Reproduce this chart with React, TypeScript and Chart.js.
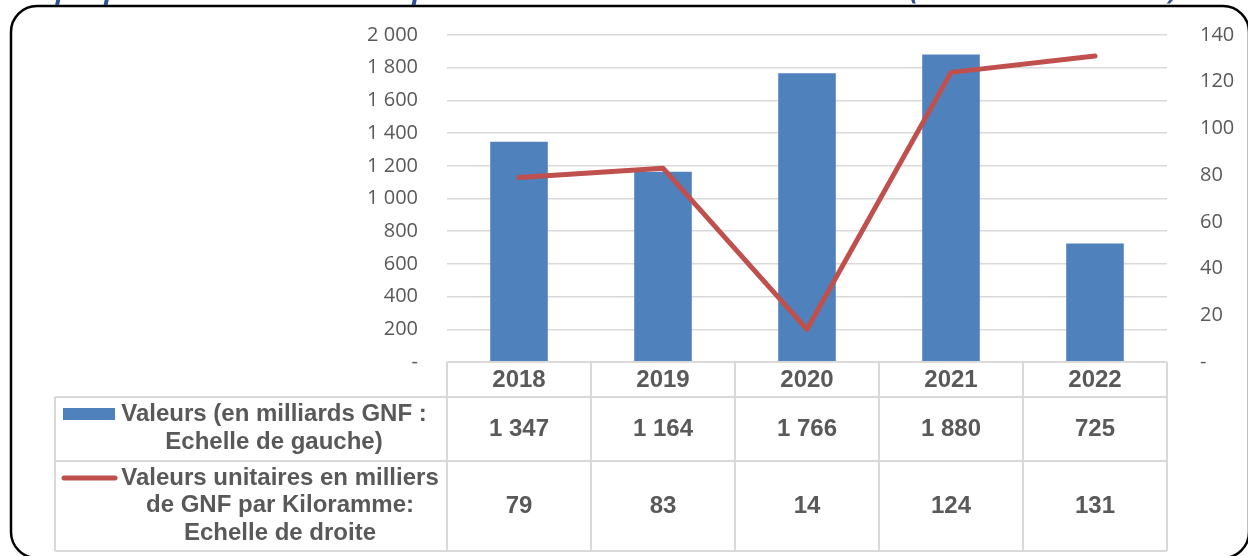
import React, { useEffect, useRef } from "react";
import { Chart, registerables } from "chart.js";

Chart.register(...registerables);

const title =
  "Graphique 11 : Evolution des importations des médicaments en valeur (en milliards de GNF)";
const categories = ["2018", "2019", "2020", "2021", "2022"];
const valeurs = [1347, 1164, 1766, 1880, 725];
const unitaires = [79, 83, 14, 124, 131];
const barLegendLines = ["Valeurs (en milliards GNF :", "Echelle de gauche)"];
const lineLegendLines = [
  "Valeurs unitaires en milliers",
  "de GNF par Kiloramme:",
  "Echelle de droite",
];
const leftAxis = { min: 0, max: 2000, step: 200 };
const rightAxis = { min: 0, max: 140, step: 20 };

const BAR_COLOR = "#4f81bd";
const LINE_COLOR = "#c0504d";
const TEXT_COLOR = "#595959";
const GRID_COLOR = "#d9d9d9";

const fmt = (n: number) =>
  n === 0 ? "-" : String(n).replace(/\B(?=(\d{3})+(?!\d))/g, " ");

const tablePlugin = {
  id: "dataTable",
  afterDraw(chart: any) {
    const ctx = chart.ctx as CanvasRenderingContext2D;
    const xs = chart.scales.x;
    const area = chart.chartArea;
    const top = area.bottom;
    const headerBottom = top + 35;
    const row1Bottom = top + 99;
    const row2Bottom = top + 189;
    const tableLeft = 55;
    const half =
      (xs.getPixelForValue(1) - xs.getPixelForValue(0)) / 2;

    ctx.save();
    // table grid
    ctx.strokeStyle = GRID_COLOR;
    ctx.lineWidth = 2;
    ctx.beginPath();
    ctx.moveTo(area.left, top);
    ctx.lineTo(area.right, top);
    [headerBottom, row1Bottom, row2Bottom].forEach((y) => {
      ctx.moveTo(tableLeft, y);
      ctx.lineTo(area.right, y);
    });
    ctx.moveTo(tableLeft, headerBottom);
    ctx.lineTo(tableLeft, row2Bottom);
    for (let i = 0; i <= categories.length; i++) {
      const x = xs.getPixelForValue(0) - half + i * 2 * half;
      ctx.moveTo(x, top);
      ctx.lineTo(x, row2Bottom);
    }
    ctx.stroke();

    // values
    ctx.fillStyle = TEXT_COLOR;
    ctx.font = 'bold 24px "Liberation Sans", Arial, sans-serif';
    ctx.textAlign = "center";
    ctx.textBaseline = "middle";
    categories.forEach((c, i) => {
      const cx = xs.getPixelForValue(i);
      ctx.fillText(c, cx, (top + headerBottom) / 2 + 1);
      ctx.fillText(fmt(valeurs[i]), cx, (headerBottom + row1Bottom) / 2);
      ctx.fillText(String(unitaires[i]), cx, (row1Bottom + row2Bottom) / 2);
    });

    // legend column
    const r1c = (headerBottom + row1Bottom) / 2;
    barLegendLines.forEach((t, k) => {
      ctx.fillText(t, 274, r1c - 15 + k * 28);
    });
    ctx.fillStyle = BAR_COLOR;
    ctx.fillRect(63, r1c - 21, 52, 12);

    const r2c = (row1Bottom + row2Bottom) / 2;
    ctx.fillStyle = TEXT_COLOR;
    lineLegendLines.forEach((t, k) => {
      ctx.fillText(t, 280, r2c - 28 + k * 27.5);
    });
    ctx.strokeStyle = LINE_COLOR;
    ctx.lineWidth = 5;
    ctx.lineCap = "round";
    ctx.beginPath();
    ctx.moveTo(64, r2c - 28);
    ctx.lineTo(115, r2c - 28);
    ctx.stroke();

    // outer rounded frame
    ctx.strokeStyle = "#000";
    ctx.lineWidth = 2.5;
    ctx.lineCap = "butt";
    ctx.beginPath();
    (ctx as any).roundRect(11, 6, 1238, 552, 26);
    ctx.stroke();

    // clipped title
    ctx.fillStyle = "#2e5395";
    ctx.font = 'italic bold 27px "Open Sans", sans-serif';
    ctx.textAlign = "left";
    ctx.textBaseline = "alphabetic";
    ctx.fillText(title, 10, -1);
    ctx.restore();
  },
};

const fitWidth = (w: number) => (s: any) => {
  s.width = w;
  s.paddingTop = 0;
  s.paddingBottom = 0;
};

export default function App() {
  const ref = useRef<HTMLCanvasElement | null>(null);
  useEffect(() => {
    if (!ref.current) return;
    const chart = new Chart(ref.current, {
      type: "bar",
      data: {
        labels: categories,
        datasets: [
          {
            type: "line",
            label: lineLegendLines.join(" "),
            data: unitaires,
            yAxisID: "y1",
            borderColor: LINE_COLOR,
            backgroundColor: LINE_COLOR,
            borderWidth: 5,
            pointRadius: 0,
            borderCapStyle: "round",
            borderJoinStyle: "round",
            tension: 0,
            order: 0,
          } as any,
          {
            type: "bar",
            label: barLegendLines.join(" "),
            data: valeurs,
            yAxisID: "y",
            backgroundColor: BAR_COLOR,
            categoryPercentage: 1,
            barPercentage: 0.4,
            order: 1,
          },
        ],
      },
      options: {
        animation: false,
        responsive: true,
        maintainAspectRatio: false,
        layout: { padding: { top: 35, bottom: 194, left: 0, right: 0 } },
        plugins: { legend: { display: false }, tooltip: { enabled: false } },
        scales: {
          x: { display: false, offset: true },
          y: {
            position: "left",
            min: leftAxis.min,
            max: leftAxis.max,
            afterFit: fitWidth(447),
            border: { display: false },
            grid: { color: GRID_COLOR, lineWidth: 1.5, drawTicks: false },
            ticks: {
              stepSize: leftAxis.step,
              padding: 29,
              color: TEXT_COLOR,
              font: { family: '"Open Sans", sans-serif', size: 20 },
              callback: (v: any) => fmt(Number(v)),
            },
          },
          y1: {
            position: "right",
            min: rightAxis.min,
            max: rightAxis.max,
            afterFit: fitWidth(81),
            border: { display: false },
            grid: { display: false, drawTicks: false },
            ticks: {
              stepSize: rightAxis.step,
              padding: 33,
              color: TEXT_COLOR,
              font: { family: '"Open Sans", sans-serif', size: 20 },
              callback: (v: any) => fmt(Number(v)),
            },
          },
        },
      },
      plugins: [tablePlugin],
    });
    return () => chart.destroy();
  }, []);

  return (
    <div
      style={{
        position: "absolute",
        left: 0,
        top: 0,
        width: 1248,
        height: 556,
        background: "#fff",
      }}
    >
      <canvas ref={ref} />
    </div>
  );
}
